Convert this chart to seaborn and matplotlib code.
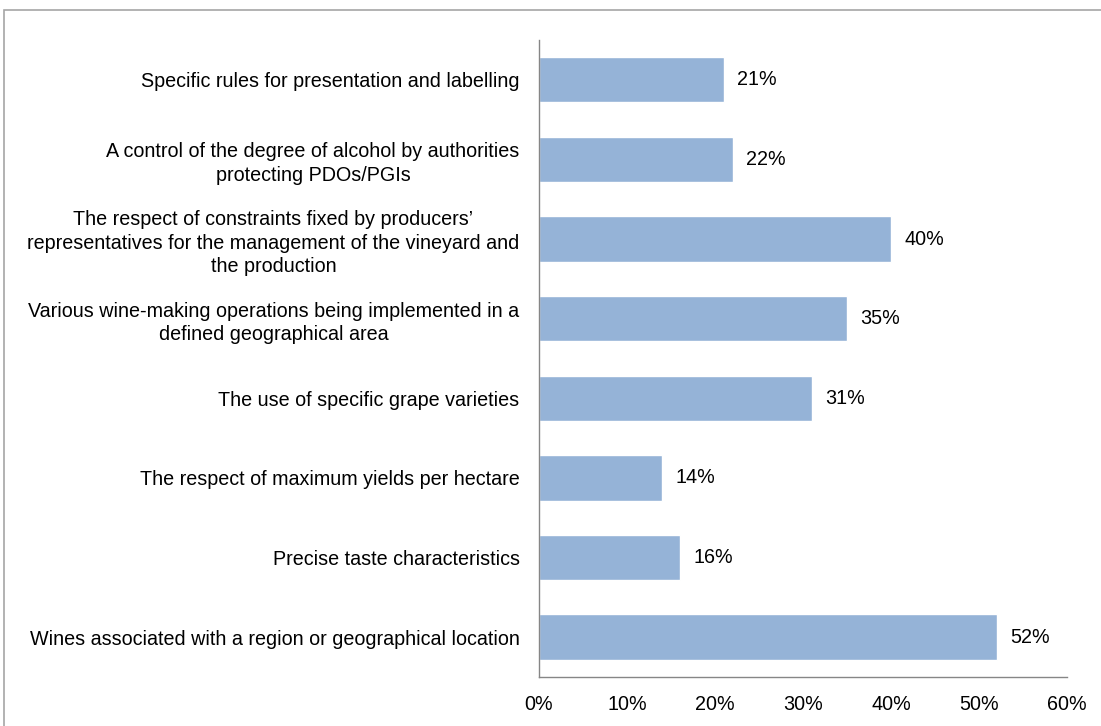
import matplotlib
matplotlib.use("Agg")
import matplotlib.pyplot as plt
import seaborn as sns
import pandas as pd
from matplotlib.patches import Rectangle

categories = [
    "Specific rules for presentation and labelling",
    "A control of the degree of alcohol by authorities\nprotecting PDOs/PGIs",
    "The respect of constraints fixed by producers\u2019\nrepresentatives for the management of the vineyard and\nthe production",
    "Various wine-making operations being implemented in a\ndefined geographical area",
    "The use of specific grape varieties",
    "The respect of maximum yields per hectare",
    "Precise taste characteristics",
    "Wines associated with a region or geographical location",
]
values = [21, 22, 40, 35, 31, 14, 16, 52]
tick_values = [0, 10, 20, 30, 40, 50, 60]
tick_labels = [f"{v}%" for v in tick_values]

df = pd.DataFrame({"category": categories, "value": values})

sns.set_theme(style="white")
plt.rcParams["font.family"] = ["Liberation Sans", "DejaVu Sans"]

fig = plt.figure(figsize=(11.01, 7.26), dpi=100)
ax = fig.add_axes([0.4896, 0.0675, 0.4796, 0.8775])

bar_color = "#95B3D7"
sns.barplot(data=df, x="value", y="category", color=bar_color, width=0.57,
            saturation=1, ax=ax, orient="h")

ax.set_xlim(0, 60)
ax.set_ylim(7.5, -0.5)
ax.set_xticks(tick_values)
ax.set_xticklabels(tick_labels)
ax.set_xlabel("")
ax.set_ylabel("")

fs = 14.2
for i, v in enumerate(values):
    ax.text(v + 1.5, i, f"{v}%", va="center", ha="left", fontsize=fs, color="#000000")

ax.tick_params(axis="x", labelsize=fs, length=0, pad=13, colors="#000000")
ax.tick_params(axis="y", labelsize=fs, length=0, pad=14, colors="#000000")
for lbl in ax.get_yticklabels():
    lbl.set_multialignment("center")
    lbl.set_linespacing(1.3)

for side in ["top", "right"]:
    ax.spines[side].set_visible(False)
for side in ["left", "bottom"]:
    ax.spines[side].set_color("#868686")
    ax.spines[side].set_linewidth(1.0)

# outer chart frame
fig.patches.append(Rectangle((4 / 1101, -0.05), 1.2, 1 - 10 / 726 + 0.05,
                             transform=fig.transFigure, fill=False,
                             edgecolor="#A6A6A6", linewidth=1.2))

fig.savefig("out.png", dpi=100)
